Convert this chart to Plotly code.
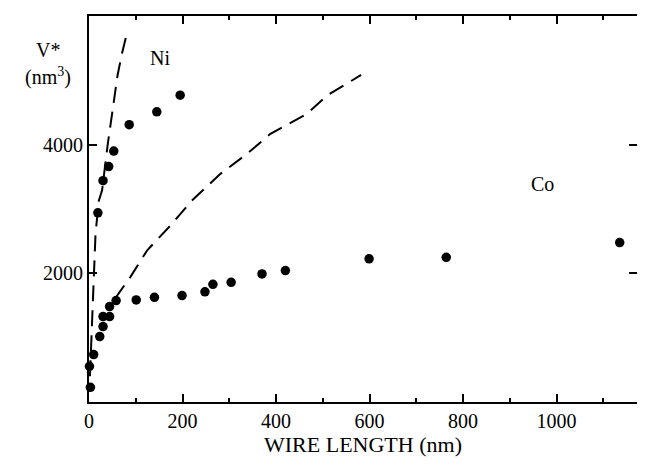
import plotly.graph_objects as go

# Data
ni_len = [19, 30, 42, 53, 86, 145, 195]
ni_vol = [2940, 3440, 3660, 3900, 4310, 4510, 4770]

co_len = [3, 1, 10, 23, 30, 30, 44, 44, 58, 101, 140, 199, 248, 265, 304, 370, 420, 599, 764, 1135]
co_vol = [229, 555, 737, 1017, 1172, 1328, 1328, 1483, 1576, 1587, 1628, 1654, 1712, 1830, 1861, 1991, 2043, 2225, 2249, 2478]

ni_fit_len = [2, 6, 9, 14, 21, 28, 40, 51, 61, 70, 80]
ni_fit_vol = [400, 1220, 1690, 2620, 3130, 3290, 4000, 4580, 5075, 5400, 5700]

co_fit_len = [58, 60, 88, 124, 174, 220, 281, 338, 388, 466, 509, 566, 582]
co_fit_vol = [1600, 1654, 1938, 2353, 2742, 3131, 3546, 3857, 4168, 4479, 4763, 5023, 5084]

x_ticks = [0, 200, 400, 600, 800, 1000]
y_ticks = [2000, 4000]

FONT = "Liberation Serif, Times New Roman, serif"

fig = go.Figure()
dash = "16px,9px"
fig.add_trace(go.Scatter(x=ni_fit_len, y=ni_fit_vol, mode="lines",
                         line=dict(color="black", width=2, dash=dash), showlegend=False))
fig.add_trace(go.Scatter(x=co_fit_len, y=co_fit_vol, mode="lines",
                         line=dict(color="black", width=2, dash=dash), showlegend=False))
fig.add_trace(go.Scatter(x=ni_len, y=ni_vol, mode="markers",
                         marker=dict(color="black", size=9.5), showlegend=False, cliponaxis=False))
fig.add_trace(go.Scatter(x=co_len, y=co_vol, mode="markers",
                         marker=dict(color="black", size=9.5), showlegend=False, cliponaxis=False))
# invisible trace to anchor the right-side tick axis
fig.add_trace(go.Scatter(x=[0], y=[0], yaxis="y2", mode="markers",
                         marker=dict(opacity=0), showlegend=False, hoverinfo="skip"))

fig.add_annotation(x=152, y=5340, text="Ni", showarrow=False,
                   font=dict(family=FONT, size=20, color="black"))
fig.add_annotation(x=970, y=3395, text="Co", showarrow=False,
                   font=dict(family=FONT, size=20, color="black"))
fig.add_annotation(xref="paper", yref="paper", x=-0.075, y=0.946, xanchor="center",
                   text="V*", showarrow=False,
                   font=dict(family=FONT, size=20, color="black"))
fig.add_annotation(xref="paper", yref="paper", x=-0.075, y=0.88, xanchor="center",
                   text="(nm<sup>3</sup>)", showarrow=False,
                   font=dict(family=FONT, size=20, color="black"))

# the page has an 8px body margin; the figure is sized to fit without scrollbars
fig.update_layout(
    width=629, height=449,
    margin=dict(l=81, r=0, t=8, b=55),
    paper_bgcolor="white", plot_bgcolor="white",
    font=dict(family=FONT, size=20, color="black"),
    xaxis=dict(range=[0, 1172], tickvals=x_ticks, ticktext=[str(v) for v in x_ticks],
               ticks="inside", ticklen=8, tickwidth=2, tickcolor="black",
               minor=dict(dtick=100, tick0=0, ticks="inside", ticklen=4, tickwidth=1.5, tickcolor="black"),
               showline=True, linewidth=2, linecolor="black", mirror="ticks",
               showgrid=False, zeroline=False,
               title=dict(text="WIRE LENGTH (nm)", font=dict(family=FONT, size=22), standoff=6),
               tickfont=dict(family=FONT, size=20)),
    yaxis=dict(range=[0, 6000], tickvals=y_ticks, ticktext=[str(v) for v in y_ticks],
               ticks="inside", ticklen=8, tickwidth=2, tickcolor="black",
               showline=True, linewidth=2, linecolor="black", mirror=False,
               showgrid=False, zeroline=False, tickfont=dict(family=FONT, size=20)),
    yaxis2=dict(range=[0, 6000], overlaying="y", side="right", tickvals=y_ticks,
                ticks="inside", ticklen=8, tickwidth=2, tickcolor="black",
                showticklabels=False, showline=False, showgrid=False, zeroline=False),
)

fig.write_html("out.html")
